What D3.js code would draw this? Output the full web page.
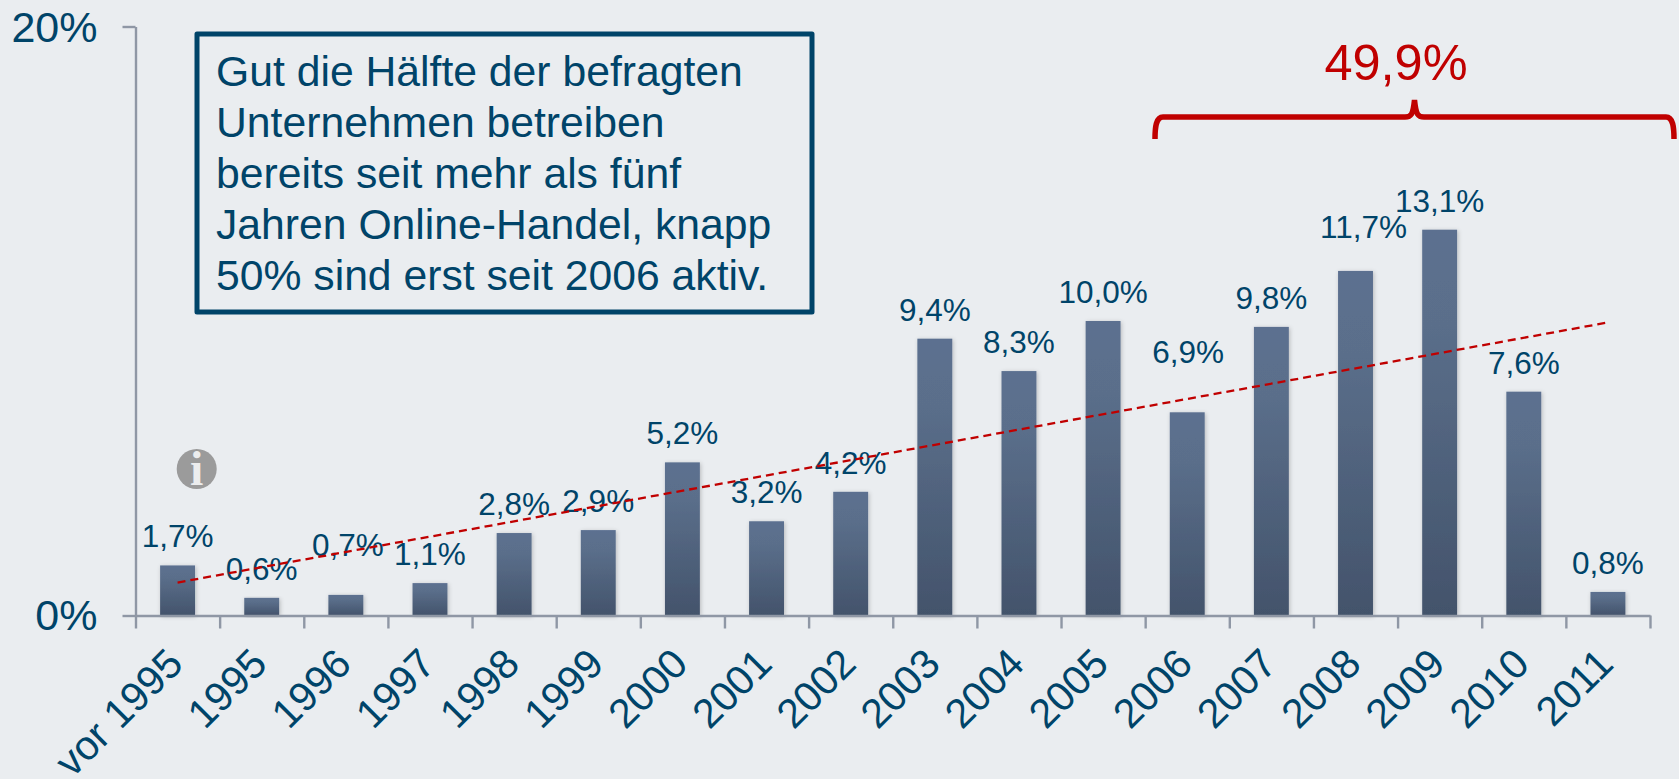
<!DOCTYPE html>
<html><head><meta charset="utf-8">
<script src="https://cdn.jsdelivr.net/npm/d3@7"></script>
<style>html,body{margin:0;padding:0;background:#eaedf0;overflow:hidden}svg{display:block}text{font-family:"Liberation Sans",Arial,sans-serif}</style>
</head><body><svg id="c" width="1679" height="779"></svg>
<script>
const categories=["vor 1995","1995","1996","1997","1998","1999","2000","2001","2002","2003","2004","2005","2006","2007","2008","2009","2010","2011"];
const values=[1.7,0.6,0.7,1.1,2.8,2.9,5.2,3.2,4.2,9.4,8.3,10.0,6.9,9.8,11.7,13.1,7.6,0.8];
const trendStart=1.12, trendEnd=9.95;
const yTicks=[0,20];
const noteLines=["Gut die Hälfte der befragten","Unternehmen betreiben","bereits seit mehr als fünf","Jahren Online-Handel, knapp","50% sind erst seit 2006 aktiv."];
const bracketLabel="49,9%";
// label placement exceptions (by category)
const labelNudge={"1996":[2,-21],"2006":[1,-31],"2008":[8,-15]};

const INK="#004469",RED="#c00000",AXIS="#8f97a5";
const svg=d3.select("#c");
const plotL=135.5,plotR=1650,plotB=615.5,plotT=26.5;
const x=d3.scaleBand().domain(categories).range([plotL,plotR]).paddingInner(0.585).paddingOuter(0.2925);
const edges=d3.scaleLinear().domain([0,categories.length]).range([plotL,plotR]);
const y=d3.scaleLinear().domain([0,20]).range([plotB,plotT]);
const cx=c=>x(c)+x.bandwidth()/2;

const defs=svg.append("defs");
const grad=defs.append("linearGradient").attr("id","bar").attr("x1",0).attr("y1",0).attr("x2",0).attr("y2",1);
grad.append("stop").attr("offset","0%").attr("stop-color","#5c7090");
grad.append("stop").attr("offset","25%").attr("stop-color","#5a6e8a");
grad.append("stop").attr("offset","100%").attr("stop-color","#43536b");
const shadow=defs.append("filter").attr("id","sh").attr("x","-30%").attr("y","-10%").attr("width","160%").attr("height","120%");
shadow.append("feDropShadow").attr("dx",1).attr("dy",1).attr("stdDeviation",2).attr("flood-color","#000").attr("flood-opacity",0.22);

svg.append("rect").attr("width",1679).attr("height",779).attr("fill","#eaedf0");

// bars
svg.append("g").selectAll("rect").data(values).join("rect")
 .attr("x",(d,i)=>x(categories[i])).attr("width",x.bandwidth())
 .attr("y",d=>y(d)).attr("height",d=>y(0)-y(d))
 .attr("fill","url(#bar)").attr("filter","url(#sh)");

// axes
const xAxis=svg.append("g").attr("transform",`translate(0,${plotB})`)
 .call(d3.axisBottom(edges).tickValues(d3.range(categories.length+1)).tickFormat("").tickSize(13).tickSizeOuter(0));
const yAxis=svg.append("g").attr("transform",`translate(${plotL},0)`)
 .call(d3.axisLeft(y).tickValues(yTicks).tickFormat(d=>d+"%").tickSize(13).tickSizeOuter(0));
[xAxis,yAxis].forEach(a=>{a.selectAll("line,path").attr("stroke",AXIS).attr("stroke-width",2.4);a.attr("fill",null);});
yAxis.selectAll("text").attr("fill",INK).attr("font-size",43).attr("x",-38).attr("dy",null)
 .attr("y",d=>d===0?14:15).attr("text-anchor","end");

// category labels
svg.append("g").selectAll("text").data(categories).join("text")
 .attr("text-anchor","end").attr("fill",INK).attr("font-size",41)
 .attr("transform",c=>`translate(${cx(c)+7.5},666) rotate(-45)`)
 .text(c=>c);

// value labels
svg.append("g").selectAll("text").data(values).join("text")
 .attr("text-anchor","middle").attr("fill",INK).attr("font-size",31.5)
 .attr("x",(d,i)=>cx(categories[i])+((labelNudge[categories[i]]||[0,0])[0]))
 .attr("y",(d,i)=>y(d)-18+((labelNudge[categories[i]]||[0,0])[1]))
 .text(d=>d.toFixed(1).replace(".",",")+"%");

// trend line
const trend=d3.line().x(d=>cx(d[0])).y(d=>y(d[1]));
svg.append("path").attr("d",trend([[categories[0],trendStart],[categories[categories.length-1],trendEnd]]))
 .attr("fill","none").attr("stroke",RED).attr("stroke-width",2.3).attr("stroke-dasharray","8 5");

// note box
svg.append("rect").attr("x",197).attr("y",34).attr("width",615).attr("height",278)
 .attr("fill","none").attr("stroke","#004469").attr("stroke-width",5).attr("stroke-linejoin","round");
svg.append("g").selectAll("text").data(noteLines).join("text")
 .attr("x",216).attr("y",(d,i)=>86+i*51).attr("fill",INK).attr("font-size",42.7).text(d=>d);

// bracket
svg.append("path").attr("d","M1155,139 C1155,127 1156,117 1163,117 L1405,117 C1411,117 1413,115 1414.5,100 C1416,115 1418,117 1424,117 L1666,117 C1673,117 1674,127 1674,139")
 .attr("fill","none").attr("stroke",RED).attr("stroke-width",5.5);
svg.append("text").attr("x",1396).attr("y",79.5).attr("text-anchor","middle").attr("fill",RED).attr("font-size",50.5).text(bracketLabel);

// info icon
const info=svg.append("g").attr("transform","translate(196.7,469)");
info.append("circle").attr("r",20).attr("fill","#9b9b9b");
info.append("text").attr("text-anchor","middle").attr("y",16).attr("fill","#ecedee")
 .attr("font-size",48).attr("font-weight","bold").style("font-family","'Liberation Serif',serif").text("i");
</script></body></html>
